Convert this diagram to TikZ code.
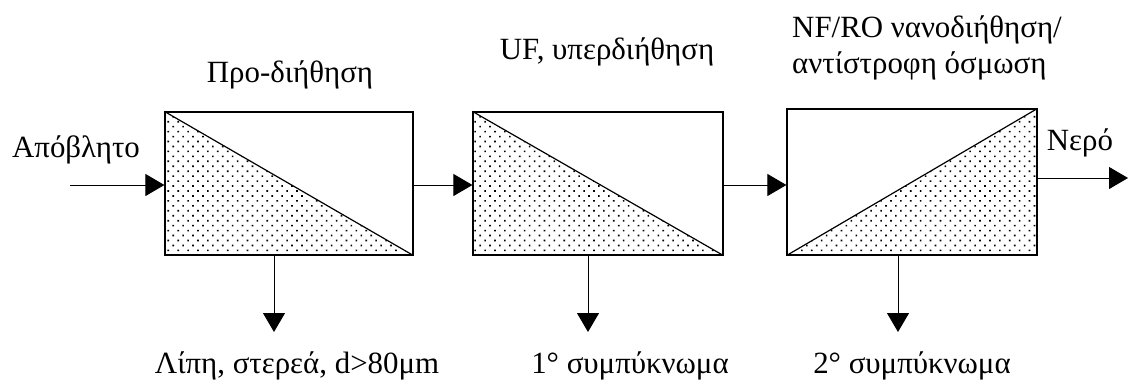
\documentclass[tikz,border=0pt]{standalone}
\usepackage{fontspec}
\setmainfont{Liberation Serif}
\usetikzlibrary{arrows.meta,patterns.meta}
\begin{document}
\begin{tikzpicture}[x=1bp,y=-1bp,
  lbl/.style={inner sep=0pt,font=\fontsize{31}{36}\selectfont},
  stagebox/.style={draw,line width=1.2bp,rectangle,inner sep=0pt},
  flow/.style={line width=1bp,-{Triangle[length=19bp,width=22bp]}},
  dotfill/.style={pattern={Dots[distance=7bp,radius=1.15bp,angle=45]}}]
\useasboundingbox (0,0) rectangle (1129,389);
% boxes
\node[stagebox,minimum width=248bp,minimum height=143bp] (b1) at (289,183.5) {};
\node[stagebox,minimum width=250bp,minimum height=143bp] (b2) at (598,183.5) {};
\node[stagebox,minimum width=250bp,minimum height=146bp] (b3) at (912,182) {};
% shaded triangles
\fill[dotfill] (b1.north west) -- (b1.south east) -- (b1.south west) -- cycle;
\draw[line width=1.2bp] (b1.north west) -- (b1.south east);
\fill[dotfill] (b2.north west) -- (b2.south east) -- (b2.south west) -- cycle;
\draw[line width=1.2bp] (b2.north west) -- (b2.south east);
\fill[dotfill] (b3.south west) -- (b3.north east) -- (b3.south east) -- cycle;
\draw[line width=1.2bp] (b3.south west) -- (b3.north east);
\draw[stagebox] (b1.south west) rectangle (b1.north east);
\draw[stagebox] (b2.south west) rectangle (b2.north east);
\draw[stagebox] (b3.south west) rectangle (b3.north east);
% coordinates
\coordinate (in) at (70,185);
\coordinate (out) at (1128,178);
\coordinate (d1) at (274,332);
\coordinate (d2) at (588,332);
\coordinate (d3) at (898,332);
% connectors
\draw[flow] (in) -- (in -| b1.west);
\draw[flow] (b1.east |- 0,185) -- (b2.west |- 0,185);
\draw[flow] (b2.east |- 0,185) -- (b3.west |- 0,185);
\draw[flow] (b3.east |- out) -- (out);
\draw[flow] (b1.south -| d1) -- (d1);
\draw[flow] (b2.south -| d2) -- (d2);
\draw[flow] (b3.south -| d3) -- (d3);
% labels
\node[lbl] (tin) at (76,150) {Απόβλητο};
\node[lbl] (t1) at (290,75) {Προ-διήθηση};
\node[lbl] (t2) at (607,52) {UF, υπερδιήθηση};
\node[lbl,anchor=west,align=left] (t3) at (792,48) {NF/RO νανοδιήθηση/\\αντίστροφη όσμωση};
\node[lbl] (tout) at (1080,143) {Νερό};
\node[lbl] (o1) at (297,366) {Λίπη, στερεά, d>80μm};
\node[lbl] (o2) at (630,366) {1° συμπύκνωμα};
\node[lbl] (o3) at (912,366) {2° συμπύκνωμα};
\end{tikzpicture}
\end{document}
